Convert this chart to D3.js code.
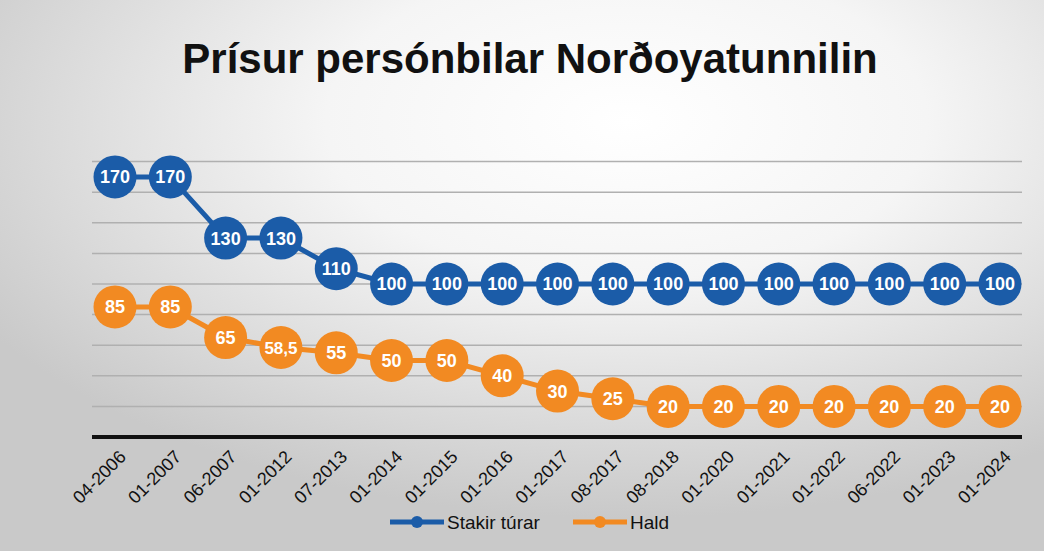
<!DOCTYPE html>
<html>
<head>
<meta charset="utf-8">
<script src="https://cdn.jsdelivr.net/npm/d3@7"></script>
<style>
  body { margin: 0; }
  svg { display: block; }
</style>
</head>
<body>
<svg id="chart"></svg>
<script>
var dates = ["04-2006", "01-2007", "06-2007", "01-2012", "07-2013", "01-2014", "01-2015",
  "01-2016", "01-2017", "08-2017", "08-2018", "01-2020", "01-2021", "01-2022",
  "06-2022", "01-2023", "01-2024"];
var stakir = [170, 170, 130, 130, 110, 100, 100, 100, 100, 100, 100, 100, 100, 100, 100, 100, 100];
var hald = [85, 85, 65, 58.5, 55, 50, 50, 40, 30, 25, 20, 20, 20, 20, 20, 20, 20];
var gridTicks = [20, 40, 60, 80, 100, 120, 140, 160, 180];

var w = 1044, h = 551;
var svg = d3.select("#chart").attr("width", w).attr("height", h);

// photographed screen look: grey edges, bright middle
var defs = svg.append("defs");
var grad = defs.append("radialGradient").attr("id", "bg")
  .attr("cx", "60%").attr("cy", "22%").attr("r", "72%");
grad.append("stop").attr("offset", "0%").attr("stop-color", "#ffffff");
grad.append("stop").attr("offset", "40%").attr("stop-color", "#f5f5f5");
grad.append("stop").attr("offset", "100%").attr("stop-color", "#c9c9c9");
svg.append("rect").attr("width", w).attr("height", h).attr("fill", "url(#bg)");

var x = d3.scalePoint().domain(dates).range([115, 1000]);
var y = d3.scaleLinear().domain([0, 200]).range([437, 131]);

// gridlines
svg.append("g")
  .selectAll("line")
  .data(gridTicks)
  .enter()
  .append("line")
  .attr("x1", 92).attr("x2", 1022)
  .attr("y1", d => y(d)).attr("y2", d => y(d))
  .attr("stroke", "#b0b0b0")
  .attr("stroke-width", 1.5);

// axis line
svg.append("line")
  .attr("x1", 92).attr("x2", 1022)
  .attr("y1", y(0)).attr("y2", y(0))
  .attr("stroke", "#111")
  .attr("stroke-width", 4);

// x labels
svg.append("g")
  .selectAll("text")
  .data(dates)
  .enter()
  .append("text")
  .attr("transform", d => `translate(${x(d) + 12}, 458) rotate(-45)`)
  .attr("text-anchor", "end")
  .attr("font-family", "Liberation Sans, Arial, sans-serif")
  .attr("font-size", 18)
  .attr("fill", "#111")
  .text(d => d);

var series = [
  { name: "Stakir túrar", values: stakir, color: "#1b5ca8" },
  { name: "Hald", values: hald, color: "#f28a22" }
];

var line = d3.line()
  .x((d, i) => x(dates[i]))
  .y(d => y(d));

series.forEach(function(s) {
  svg.append("path")
    .attr("d", line(s.values))
    .attr("fill", "none")
    .attr("stroke", s.color)
    .attr("stroke-width", 5);

  var pts = svg.append("g")
    .selectAll("g")
    .data(s.values)
    .enter()
    .append("g")
    .attr("transform", (d, i) => `translate(${x(dates[i])}, ${y(d)})`);

  pts.append("circle")
    .attr("r", 21.5)
    .attr("fill", s.color);

  pts.append("text")
    .text(d => String(d).replace(".", ","))
    .attr("text-anchor", "middle")
    .attr("dy", "0.36em")
    .attr("font-family", "Liberation Sans, Arial, sans-serif")
    .attr("font-weight", "bold")
    .attr("font-size", d => String(d).length > 3 ? 17 : 18)
    .attr("fill", "white");
});

// legend
var legend = [
  { name: "Stakir túrar", color: "#1b5ca8", x: 390 },
  { name: "Hald", color: "#f28a22", x: 573 }
];
var lg = svg.append("g")
  .selectAll("g")
  .data(legend)
  .enter()
  .append("g")
  .attr("transform", d => `translate(${d.x}, 522)`);
lg.append("line")
  .attr("x1", 0).attr("x2", 54)
  .attr("stroke", d => d.color)
  .attr("stroke-width", 5);
lg.append("circle")
  .attr("cx", 27).attr("r", 6)
  .attr("fill", d => d.color);
lg.append("text")
  .attr("x", 57)
  .attr("dy", "0.35em")
  .attr("font-family", "Liberation Sans, Arial, sans-serif")
  .attr("font-size", 19)
  .attr("fill", "#111")
  .text(d => d.name);

// title
svg.append("text")
  .attr("x", 530)
  .attr("y", 73)
  .attr("text-anchor", "middle")
  .attr("font-family", "Liberation Sans, Arial, sans-serif")
  .attr("font-weight", "bold")
  .attr("font-size", 42)
  .attr("fill", "#111")
  .text("Prísur persónbilar Norðoyatunnilin");
</script>
</body>
</html>
